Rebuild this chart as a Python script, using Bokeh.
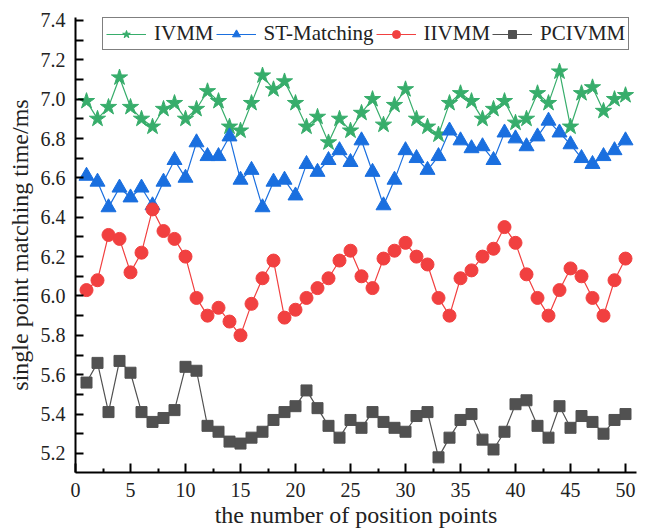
from bokeh.plotting import figure
from bokeh.models import FixedTicker, Range1d, Legend, LegendItem, NumeralTickFormatter
from bokeh.embed import file_html
from bokeh.resources import INLINE

x = list(range(1, 51))

ivmm = [6.99, 6.90, 6.96, 7.11, 6.96, 6.90, 6.86, 6.95, 6.98, 6.90,
        6.95, 7.04, 6.99, 6.86, 6.84, 6.98, 7.12, 7.05, 7.09, 6.98,
        6.86, 6.91, 6.78, 6.90, 6.84, 6.93, 7.00, 6.87, 6.97, 7.05,
        6.90, 6.86, 6.82, 6.98, 7.03, 6.99, 6.90, 6.95, 6.99, 6.88,
        6.90, 7.03, 6.98, 7.14, 6.86, 7.03, 7.06, 6.94, 7.00, 7.02]

st_matching = [6.61, 6.58, 6.45, 6.55, 6.50, 6.55, 6.46, 6.58, 6.69, 6.60,
               6.78, 6.71, 6.71, 6.81, 6.59, 6.64, 6.45, 6.58, 6.59, 6.51,
               6.67, 6.63, 6.69, 6.74, 6.68, 6.79, 6.63, 6.46, 6.59, 6.74,
               6.70, 6.64, 6.71, 6.84, 6.79, 6.75, 6.76, 6.69, 6.83, 6.80,
               6.76, 6.81, 6.89, 6.83, 6.77, 6.70, 6.67, 6.71, 6.74, 6.79]

iivmm = [6.03, 6.08, 6.31, 6.29, 6.12, 6.22, 6.44, 6.33, 6.29, 6.20,
         5.99, 5.90, 5.94, 5.87, 5.80, 5.96, 6.09, 6.18, 5.89, 5.93,
         5.99, 6.04, 6.09, 6.18, 6.23, 6.10, 6.04, 6.19, 6.23, 6.27,
         6.20, 6.16, 5.99, 5.90, 6.09, 6.13, 6.20, 6.24, 6.35, 6.27,
         6.11, 5.99, 5.90, 6.03, 6.14, 6.10, 5.99, 5.90, 6.08, 6.19]

pcivmm = [5.56, 5.66, 5.41, 5.67, 5.61, 5.41, 5.36, 5.38, 5.42, 5.64,
          5.62, 5.34, 5.31, 5.26, 5.25, 5.28, 5.31, 5.37, 5.41, 5.44,
          5.52, 5.43, 5.34, 5.28, 5.37, 5.33, 5.41, 5.36, 5.33, 5.31,
          5.39, 5.41, 5.18, 5.28, 5.37, 5.40, 5.27, 5.22, 5.31, 5.45,
          5.47, 5.34, 5.28, 5.44, 5.33, 5.39, 5.36, 5.30, 5.37, 5.40]

x_ticks = [0, 5, 10, 15, 20, 25, 30, 35, 40, 45, 50]
x_minor = [2.5, 7.5, 12.5, 17.5, 22.5, 27.5, 32.5, 37.5, 42.5, 47.5]
y_ticks = [5.2, 5.4, 5.6, 5.8, 6.0, 6.2, 6.4, 6.6, 6.8, 7.0, 7.2, 7.4]
y_minor = [5.3, 5.5, 5.7, 5.9, 6.1, 6.3, 6.5, 6.7, 6.9, 7.1, 7.3]

FONT = "Liberation Serif"

p = figure(width=650, height=530, output_backend="svg", toolbar_location=None,
           x_range=Range1d(0, 51), y_range=Range1d(5.103, 7.415),
           min_border_left=75, min_border_right=14, min_border_top=17,
           min_border_bottom=58)
p.outline_line_color = None
p.xgrid.visible = False
p.ygrid.visible = False
p.background_fill_color = "white"
p.border_fill_color = "white"

series = [
    ("IVMM", ivmm, "#37AD6B", "star", 17),
    ("ST-Matching", st_matching, "#1A6FDF", "triangle", 15),
    ("IIVMM", iivmm, "#F14040", "circle", 13),
    ("PCIVMM", pcivmm, "#515151", "square", 11),
]

items = []
for name, vals, col, mk, sz in series:
    lr = p.line(x, vals, line_color=col, line_width=1.2)
    sr = p.scatter(x, vals, marker=mk, size=sz, fill_color=col, line_color=col)
    items.append(LegendItem(label=name, renderers=[lr, sr]))

for ax in (p.xaxis[0], p.yaxis[0]):
    ax.axis_line_width = 2
    ax.axis_line_color = "black"
    ax.major_tick_line_width = 2
    ax.minor_tick_line_width = 2
    ax.major_tick_out = 0
    ax.minor_tick_out = 0
    ax.major_label_text_font = FONT
    ax.major_label_text_font_size = "20px"
    ax.major_label_text_color = "#222222"
    ax.axis_label_text_font = FONT
    ax.axis_label_text_font_size = "24px"
    ax.axis_label_text_font_style = "normal"
    ax.axis_label_text_color = "#222222"

p.xaxis.ticker = FixedTicker(ticks=x_ticks, minor_ticks=x_minor)
p.yaxis.ticker = FixedTicker(ticks=y_ticks, minor_ticks=y_minor)
p.yaxis.formatter = NumeralTickFormatter(format="0.0")
p.xaxis.major_tick_in = 9
p.xaxis.minor_tick_in = 4
p.yaxis.major_tick_in = 8
p.yaxis.minor_tick_in = 8
p.xaxis.major_label_standoff = 10
p.yaxis.major_label_standoff = 10
p.xaxis.axis_label = "the number of position points"
p.yaxis.axis_label = "single point matching time/ms"
p.xaxis.axis_label_standoff = 2
p.yaxis.axis_label_standoff = 5

legend = Legend(items=items, orientation="horizontal", location=(27, 422),
                border_line_color="black", border_line_width=1.2,
                background_fill_color="white", background_fill_alpha=1,
                label_text_font=FONT, label_text_font_size="21px",
                label_text_color="#222222",
                glyph_width=40, glyph_height=20, label_standoff=8,
                spacing=2, padding=3, margin=0)
p.add_layout(legend)

open("out.html", "w").write(file_html(p, INLINE))
